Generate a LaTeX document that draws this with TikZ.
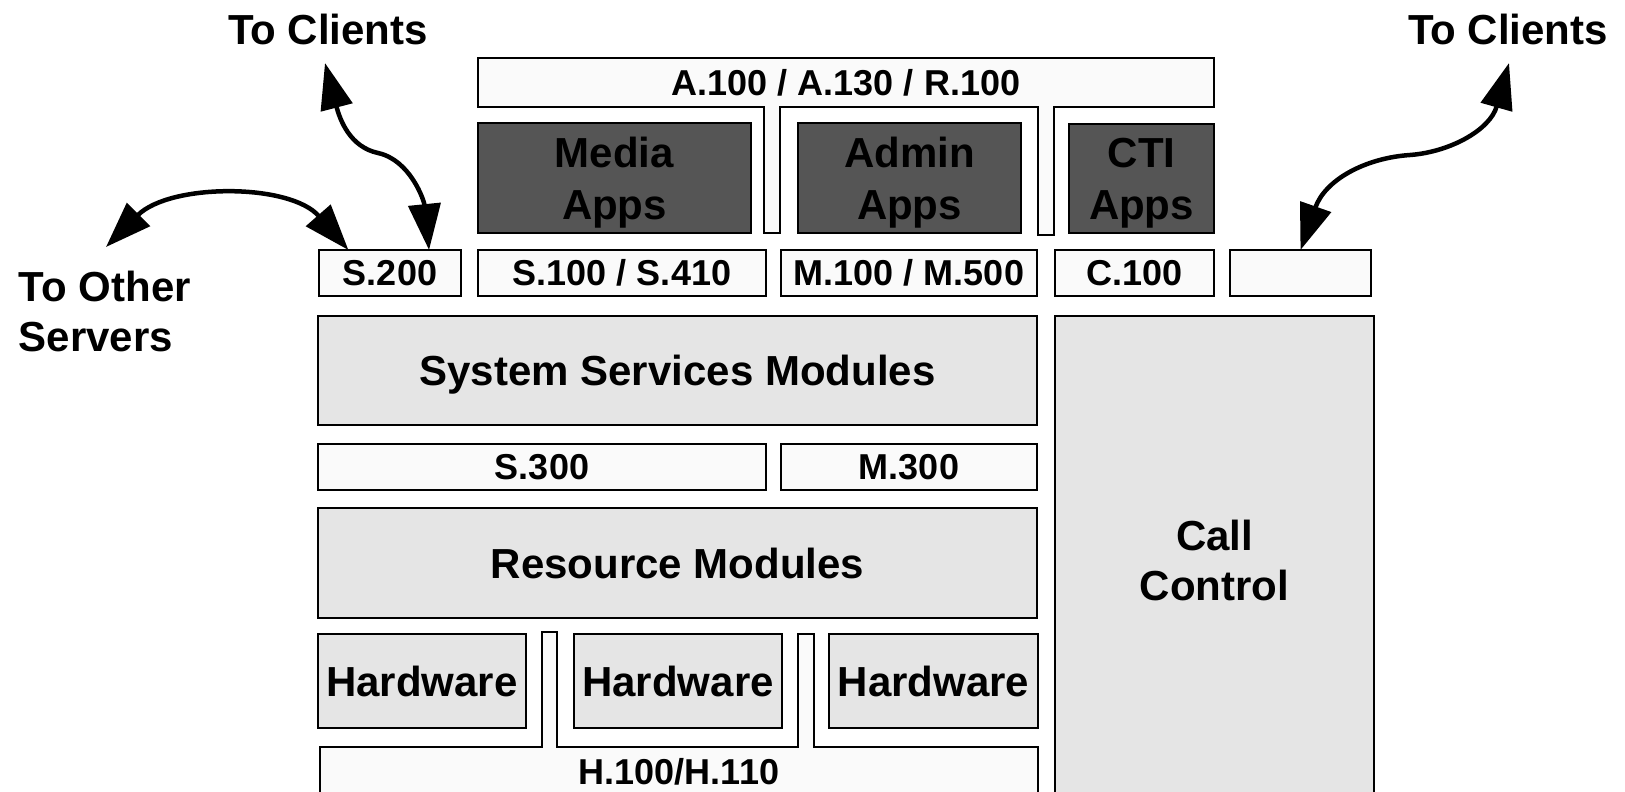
\documentclass[tikz,border=0pt]{standalone}
\usepackage{fontspec}
\setmainfont{Liberation Sans}
\usetikzlibrary{arrows.meta,calc}
\definecolor{lightfill}{HTML}{FAFAFA}
\definecolor{grayfill}{HTML}{E5E5E5}
\definecolor{darkfill}{HTML}{555555}
\begin{document}
\begin{tikzpicture}[x=1pt,y=-1pt, line join=miter,
  bigtext/.style={font=\bfseries\fontsize{42}{50}\selectfont, align=center},
  smalltext/.style={font=\bfseries\fontsize{36}{43}\selectfont},
  base/.style={draw=black, line width=2.8pt, inner sep=0pt, outer sep=0pt},
  lbox/.style={base, fill=lightfill, smalltext},
  gbox/.style={base, fill=grayfill, bigtext, text depth=0pt},
  dbox/.style={base, fill=darkfill, font=\bfseries\fontsize{42}{52}\selectfont, align=center, text depth=0pt},
  sz/.style 2 args={minimum width=#1pt, minimum height=#2pt},
  bus/.style={draw=black, line width=2.8pt, fill=lightfill},
  lbl/.style={bigtext, inner sep=0pt},
  link/.style={line width=4.5pt, {Triangle[length=46pt,width=32pt]}-{Triangle[length=46pt,width=32pt]}}]
\useasboundingbox (0,0) rectangle (1625,792);
% bus shapes
\draw[bus] (478,58) -- (1214,58) -- (1214,107) -- (1054,107) -- (1054,235) -- (1038,235) -- (1038,107)
  -- (780,107) -- (780,233) -- (764,233) -- (764,107) -- (478,107) -- cycle;
\node[smalltext, inner sep=0pt] (abus) at (846,82.5) {A.100 / A.130 / R.100};
\draw[bus] (320,805) -- (320,747) -- (542,747) -- (542,632) -- (557,632) -- (557,747) -- (798,747)
  -- (798,634) -- (814,634) -- (814,747) -- (1038,747) -- (1038,805);
\node[smalltext, inner sep=0pt] (hbus) at (679,772) {H.100/H.110};
% apps
\node[dbox, sz={273}{110}] (media) at (614.5,178) {Media\\Apps};
\node[dbox, sz={223}{110}] (admin) at (909.5,178) {Admin\\Apps};
\node[dbox, sz={145}{109}] (cti) at (1141.5,178.5) {CTI\\Apps};
% interface row
\node[lbox, sz={142}{46}] (s200) at (390,273) {S.200};
\node[lbox, sz={288}{46}] (s100) at (622,273) {S.100 / S.410};
\node[lbox, sz={256}{46}] (m100) at (909,273) {M.100 / M.500};
\node[lbox, sz={159}{46}] (c100) at (1134.5,273) {C.100};
\node[lbox, sz={141}{46}] (empty) at (1300.5,273) {};
% modules
\node[gbox, sz={719}{109}] (sys) at (677.5,370.5) {System Services Modules};
\node[lbox, sz={448}{46}] (s300) at (542,467) {S.300};
\node[lbox, sz={256}{46}] (m300) at (909,467) {M.300};
\node[gbox, sz={719}{110}] (res) at (677.5,563) {Resource Modules};
\node[gbox, sz={208}{94}] (hw1) at (422,681) {Hardware};
\node[gbox, sz={208}{94}] (hw2) at (678,681) {Hardware};
\node[gbox, sz={209}{94}] (hw3) at (933.5,681) {Hardware};
\node[gbox, sz={319}{489}] (call) at (1214.5,560.5) {Call\\Control};
% labels
\node[lbl] (tocl) at (328,29) {To Clients};
\node[lbl] (tocr) at (1508,29) {To Clients};
\node[lbl, align=left, anchor=west] (toos) at (18.7,311) {To Other\\Servers};
% free ends
\coordinate (ta) at (325,63);
\coordinate (tb) at (106,247);
\coordinate (tc) at (1509,63);
% arrows
\draw[link] (ta) .. controls (340,120) and (350,147) .. (378,153)
  .. controls (410,160) and (424,200) .. ($(s200.north west)!0.775!(s200.north east)$);
\draw[link] (tb) .. controls (170,183) and (290,183) .. ($(s200.north west)!0.207!(s200.north east)$);
\draw[link] (empty.north) .. controls (1325,180) and (1365,158) .. (1410,155)
  .. controls (1450,152) and (1490,130) .. (tc);
\end{tikzpicture}
\end{document}
